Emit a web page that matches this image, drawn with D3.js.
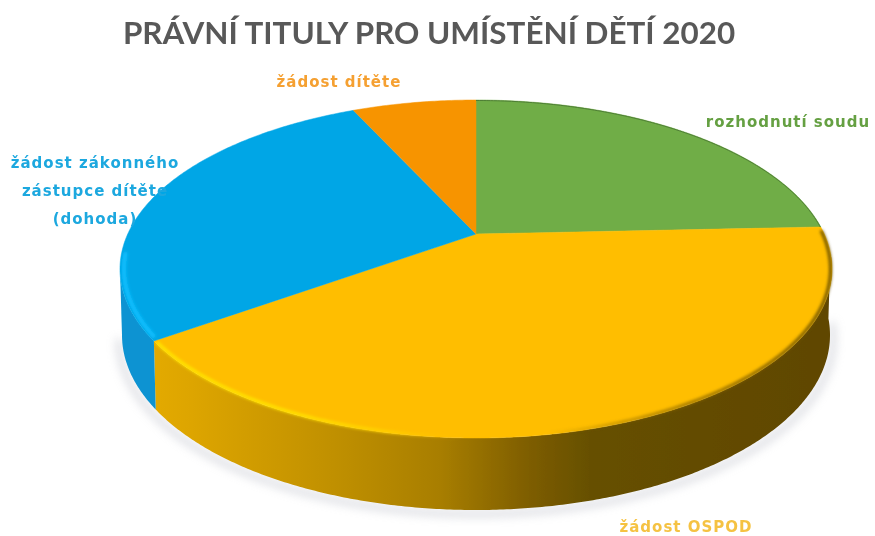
<!DOCTYPE html>
<html><head><meta charset="utf-8">
<script src="https://cdn.jsdelivr.net/npm/d3@7"></script>
<style>html,body{margin:0;padding:0;background:#fff;overflow:hidden}</style></head>
<body><svg id="c" width="875" height="536"></svg>
<script>
const titleText = "PRÁVNÍ TITULY PRO UMÍSTĚNÍ DĚTÍ 2020";
const categories = ["rozhodnutí soudu", "žádost OSPOD", "žádost zákonného zástupce dítěte (dohoda)", "žádost dítěte"];
const values = [21, 47, 26.4, 5.6];
const sliceColors = ["#70AD47", "#FFBE00", "#00A6E6", "#F79406"];
const wallColors = ["#4d7a30", "#c99700", "#0A93D2", "#b36a00"];
const labelColors = ["#65A043", "#F5C242", "#1FA8DF", "#F5A030"];
const labelLines = [["rozhodnutí soudu"], ["žádost OSPOD"], ["žádost zákonného", "zástupce dítěte", "(dohoda)"], ["žádost dítěte"]];

const topE = {cx: 476, cy: 269, rx: 356, ry: 169};
const botE = {cx: 476, cy: 335, rx: 354, ry: 175};
const apex = [476, 234];
const labelPos = [[788, 127], [686, 532], [95, 168], [339, 87]];

const svg = d3.select("#c");
const defs = svg.append("defs");
const blur = (id, s) => defs.append("filter").attr("id", id)
  .attr("x", "-20%").attr("y", "-20%").attr("width", "140%").attr("height", "140%")
  .append("feGaussianBlur").attr("stdDeviation", s);
blur("b2", 1.6); blur("b6", 5); blur("t", 0.65); blur("soft", 0.6);

const grad = (id, stops) => {
  const g = defs.append("linearGradient").attr("id", id).attr("gradientUnits", "userSpaceOnUse")
    .attr("x1", 120).attr("x2", 832).attr("y1", 0).attr("y2", 0);
  stops.forEach(s => g.append("stop").attr("offset", s[0]).attr("stop-color", s[1]).attr("stop-opacity", s[2] === undefined ? 1 : s[2]));
};
grad("wallY", [[0, "#E8AE00"], [0.1, "#DDA500"], [0.3, "#C09000"], [0.45, "#A87E00"], [0.58, "#7C5C00"], [0.66, "#665000"], [1, "#604600"]]);
grad("rimY", [[0.03, "#FFE800"], [0.25, "#FFE400"], [0.38, "#FFD000"], [0.48, "#FFBE00", 0], [0.6, "#6b5000", 0], [0.8, "#8a6600", .8], [1, "#6b5000", 1]]);

const pt = (e, a) => [e.cx + e.rx * Math.sin(a), e.cy - e.ry * Math.cos(a)];
const line = d3.line().curve(d3.curveLinear);
const samples = (a0, a1) => {
  const n = Math.max(2, Math.ceil((a1 - a0) / 0.01));
  return d3.range(n + 1).map(i => a0 + (a1 - a0) * i / n);
};
const pie = d3.pie().sort(null).value(d => d)(values);
const wallLo = Math.PI * 0.47, wallHi = Math.PI * 1.5;

// drop shadow
const sh = samples(wallLo, wallHi);
svg.append("path").attr("d", line(sh.map(a => pt({...botE, cy: botE.cy + 4, rx: botE.rx + 3}, a))) )
  .attr("fill", "none").attr("stroke", "#b9bcc6").attr("stroke-width", 6).attr("opacity", .55).attr("filter", "url(#b6)");

const chart = svg.append("g").attr("filter", "url(#soft)");

// walls
pie.forEach((d, i) => {
  const a0 = Math.max(d.startAngle, wallLo), a1 = Math.min(d.endAngle, wallHi);
  if (a1 <= a0) return;
  const s = samples(a0, a1);
  chart.append("path")
    .attr("d", line(s.map(a => pt(topE, a)).concat(s.slice().reverse().map(a => pt(botE, a)))) + "Z")
    .attr("fill", i === 1 ? "url(#wallY)" : wallColors[i]);
});

// top faces
pie.forEach((d, i) => {
  const s = samples(d.startAngle, d.endAngle);
  chart.append("path")
    .attr("d", line([apex].concat(s.map(a => pt(topE, a)))) + "Z")
    .attr("fill", sliceColors[i]).attr("stroke", sliceColors[i]).attr("stroke-width", .5);
});

// bevel rims
const rimS = samples(pie[1].startAngle + 0.02, pie[1].endAngle - 0.01);
chart.append("path").attr("d", line(rimS.map(a => pt({...topE, rx: topE.rx - 1.5, ry: topE.ry - 1}, a))))
  .attr("fill", "none").attr("stroke", "url(#rimY)").attr("stroke-width", 3).attr("filter", "url(#b2)");
const blueS = samples(pie[2].startAngle + 0.02, wallHi + 0.1);
chart.append("path").attr("d", line(blueS.map(a => pt({...topE, rx: topE.rx - 4, ry: topE.ry - 2}, a))))
  .attr("fill", "none").attr("stroke", "#10BFFF").attr("stroke-width", 4).attr("filter", "url(#b2)");
const greenS = samples(pie[0].startAngle, pie[0].endAngle);
chart.append("path").attr("d", line(greenS.map(a => pt({...topE, rx: topE.rx - .5, ry: topE.ry - .5}, a))))
  .attr("fill", "none").attr("stroke", "#4f7f35").attr("stroke-width", 1);

// title
svg.append("text").text(titleText).attr("x", 429).attr("y", 44).attr("text-anchor", "middle")
  .attr("font-family", "Lato").attr("font-weight", 700).attr("font-size", 31.4)
  .attr("fill", "#595959").attr("filter", "url(#t)");

// labels
categories.forEach((c, i) => {
  const t = svg.append("text").attr("text-anchor", "middle")
    .attr("font-family", "DejaVu Sans").attr("font-weight", 700).attr("font-size", 15).attr("letter-spacing", 1)
    .attr("fill", labelColors[i]).attr("filter", "url(#t)");
  labelLines[i].forEach((l, j) => t.append("tspan").attr("x", labelPos[i][0]).attr("y", labelPos[i][1] + j * 28).text(l));
});
</script></body></html>
